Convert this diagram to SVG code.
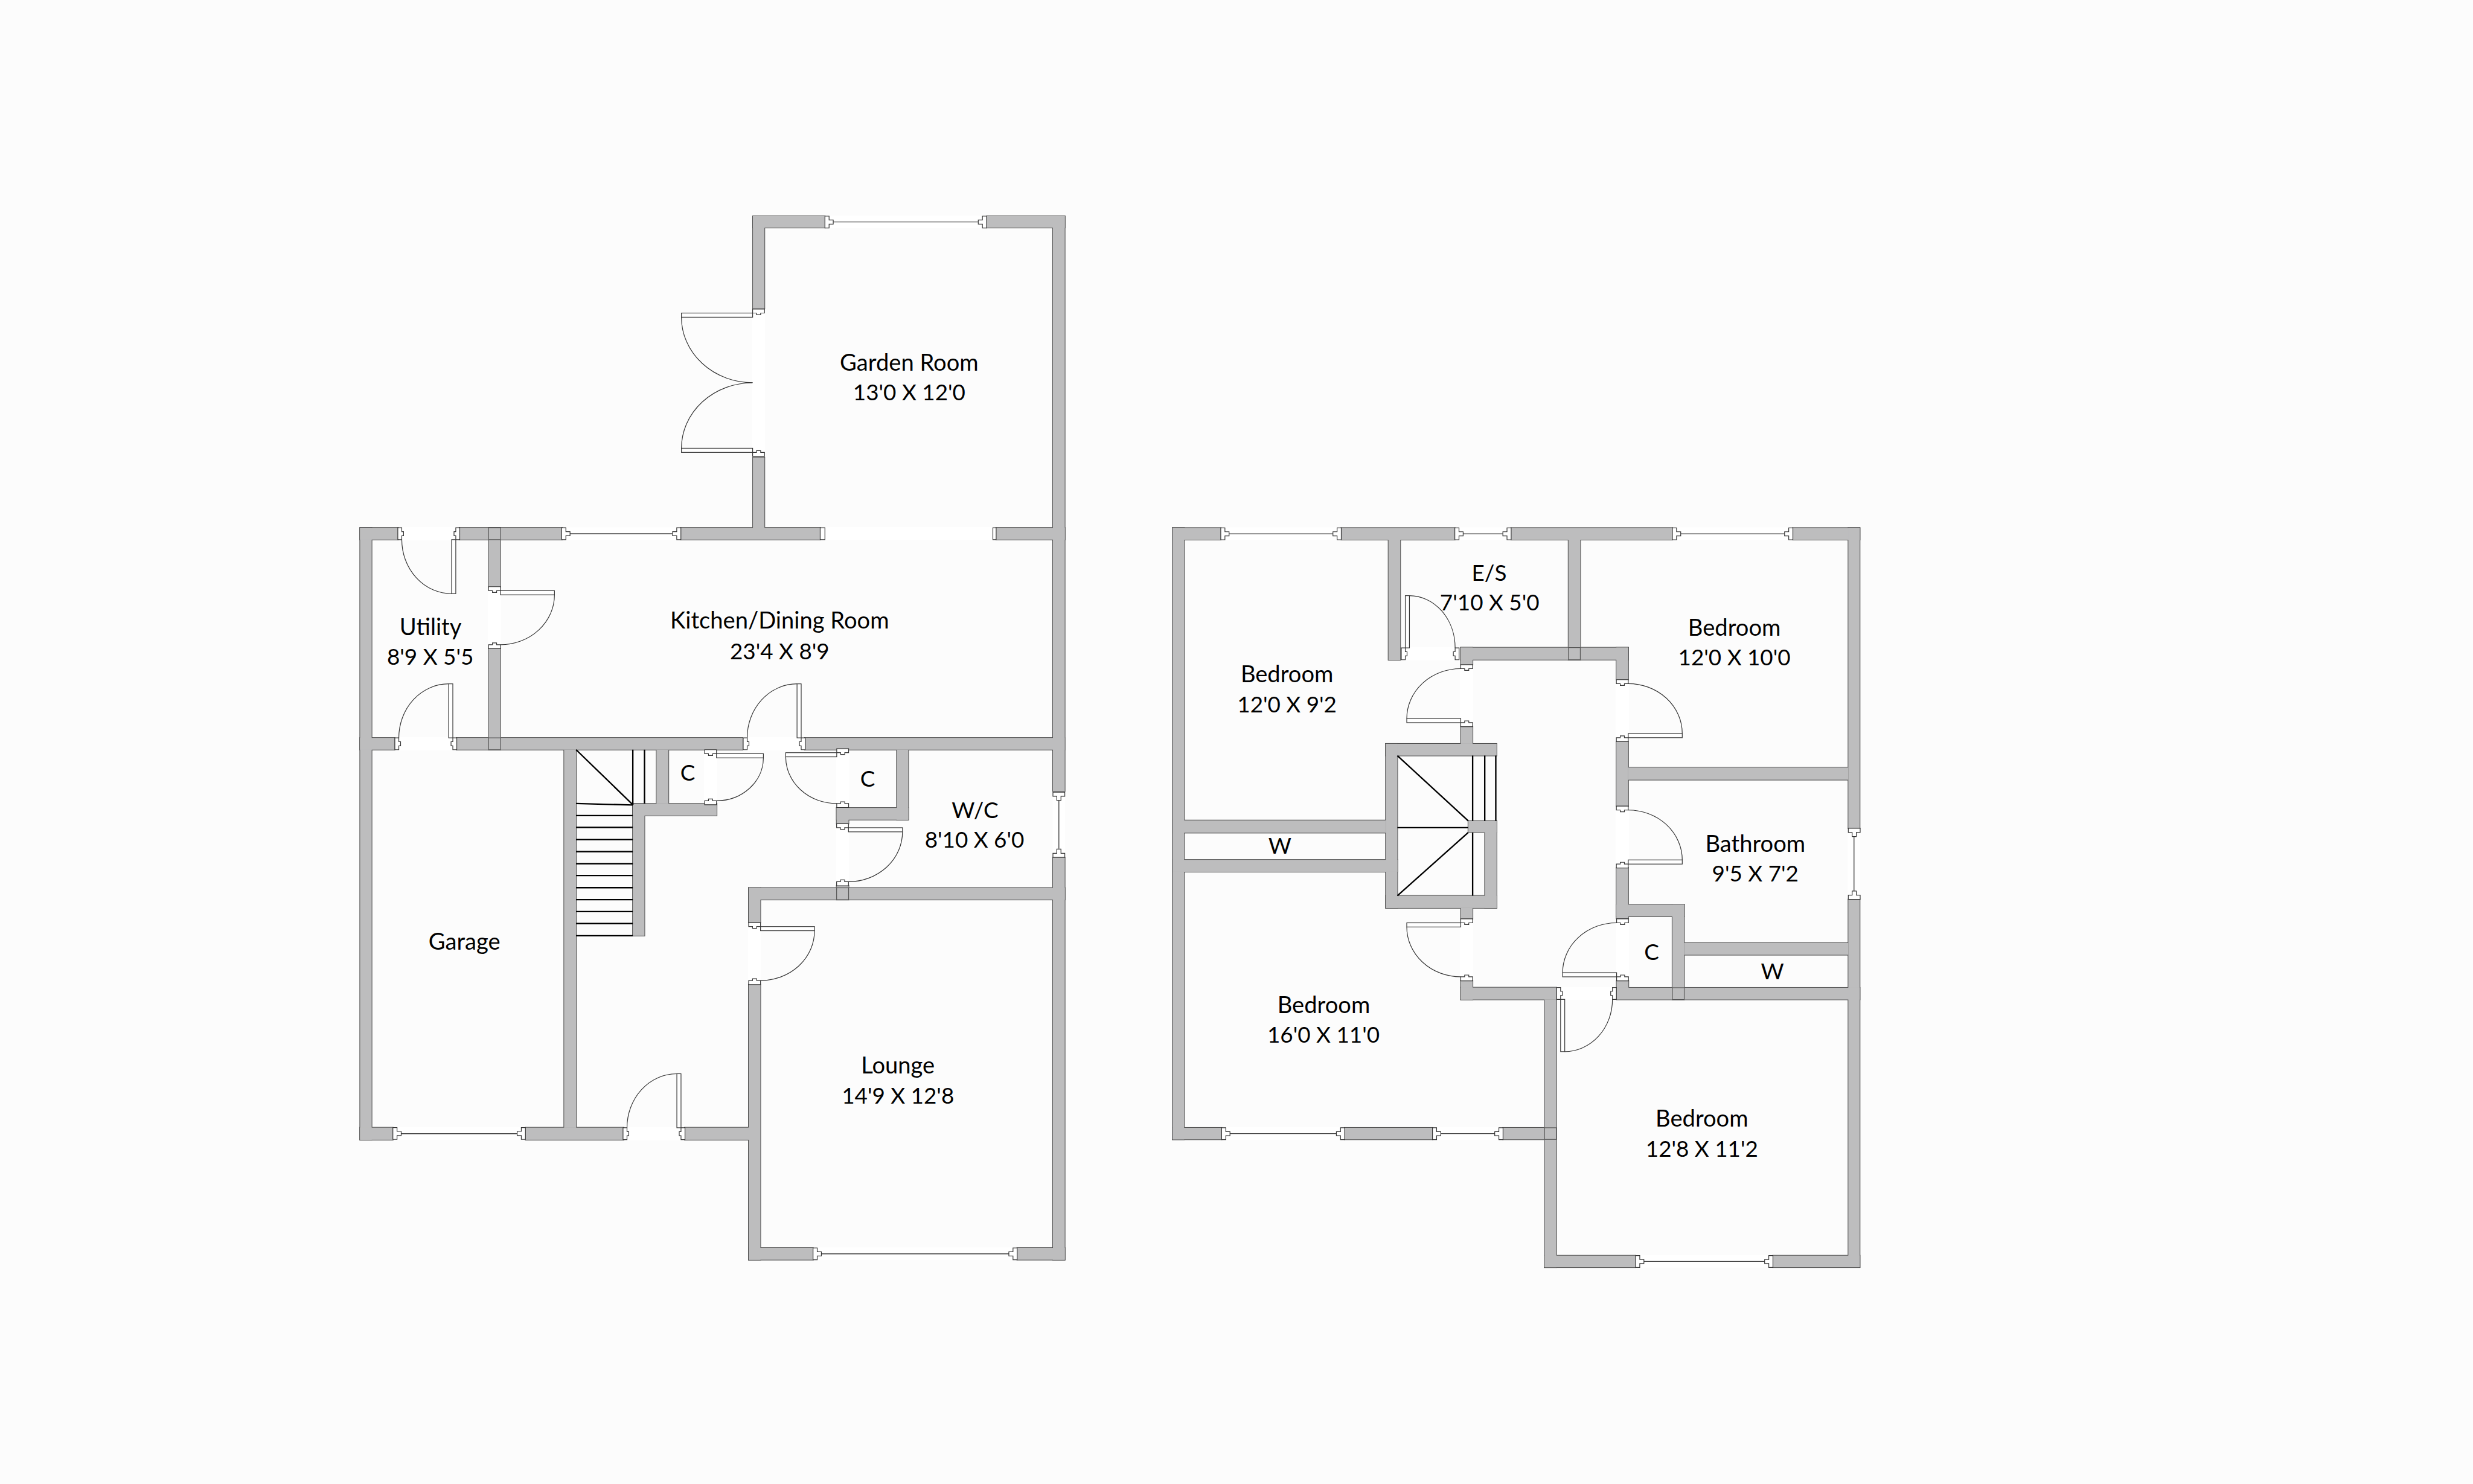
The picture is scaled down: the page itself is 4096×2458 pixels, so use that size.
<svg xmlns="http://www.w3.org/2000/svg" width="4096" height="2458" viewBox="0 0 4096 2458">
<style>
.bg{fill:#fcfcfc}
.wall{fill:#bdbdbe}
.gap{fill:#fff;stroke:none}
.p{fill:#fff;stroke:#333;stroke-width:1.2}
.arc{fill:none;stroke:#333;stroke-width:1.2}
.gl{stroke:#444;stroke-width:1.4}
.seam{fill:none;stroke:#555;stroke-width:1.2}
.st{stroke:#000;stroke-width:2.4;fill:none}
.t{font-family:Lato,"Open Sans",sans-serif;font-size:37.5px;fill:#000;text-anchor:middle}
.n{font-size:38.8px}
</style>
<defs>
<g id="j"><path class="p" d="M0 0h7v6.5h7v7h-7v6.5h-7z"/></g>
<g id="dn"><path class="p" d="M0 0h-6.7v20h6.7v-6.5h3v-7h-3z"/></g>
<g id="d91"><rect class="gap" x="0" y="-1" width="91" height="22"/><use href="#dn"/><use href="#dn" transform="matrix(-1 0 0 1 91 0)"/><rect class="p" x="0" y="20" width="7" height="91"/><path class="arc" d="M7 111A84 91 0 0 0 91 20"/></g>
<g id="d87"><rect class="gap" x="0" y="-1" width="87.4" height="22"/><use href="#dn"/><use href="#dn" transform="matrix(-1 0 0 1 87.4 0)"/><rect class="p" x="0" y="20" width="7" height="88"/><path class="arc" d="M7 108A80.4 88 0 0 0 87.4 20"/></g>
<g id="d86"><rect class="gap" x="0" y="-1" width="85.7" height="22"/><use href="#dn"/><use href="#dn" transform="matrix(-1 0 0 1 85.7 0)"/><rect class="p" x="0" y="20" width="7" height="86"/><path class="arc" d="M7 106A78.7 86 0 0 0 85.7 20"/></g>
<g id="d84"><rect class="gap" x="0" y="-1" width="84" height="22"/><use href="#dn"/><use href="#dn" transform="matrix(-1 0 0 1 84 0)"/><rect class="p" x="0" y="20" width="7" height="88"/><path class="arc" d="M7 108A77 88 0 0 0 84 20"/></g>
<g id="d79"><rect class="gap" x="0" y="-1" width="79.3" height="22"/><use href="#dn"/><use href="#dn" transform="matrix(-1 0 0 1 79.3 0)"/><rect class="p" x="0" y="20" width="7" height="79"/><path class="arc" d="M7 99A72.3 79 0 0 0 79.3 20"/></g>
<g id="d117"><rect class="gap" x="0" y="-1" width="117.3" height="22"/><use href="#dn"/><rect class="p" x="0" y="20" width="7" height="120"/><path class="arc" d="M7 140A110.3 120 0 0 0 117.3 20"/></g>
<g id="w">
<rect x="606.7" y="889.3" width="19.6" height="1031.3"/>
<rect x="606.7" y="889.3" width="64" height="20"/>
<rect x="774" y="889.3" width="173" height="20"/>
<rect x="1147.3" y="889.3" width="234.7" height="20"/>
<rect x="1678.5" y="889.3" width="115.7" height="20"/>
<rect x="823.3" y="889.3" width="20" height="99.4"/>
<rect x="823.3" y="1093.3" width="20" height="170"/>
<rect x="606.7" y="1243.3" width="58.3" height="20"/>
<rect x="769.3" y="1243.3" width="482" height="20"/>
<rect x="1355.8" y="1243.3" width="438" height="20"/>
<rect x="1268.7" y="364.2" width="19.5" height="155.8"/>
<rect x="1268.7" y="770.8" width="19.5" height="120"/>
<rect x="1268.7" y="364.2" width="121.3" height="19.5"/>
<rect x="1662.4" y="364.2" width="131.8" height="19.5"/>
<rect x="1774.2" y="364.2" width="20" height="969"/>
<rect x="1774.2" y="1444.8" width="20" height="678"/>
<rect x="950.5" y="1263.3" width="20.2" height="637"/>
<rect x="1066.3" y="1354.3" width="19.7" height="222.4"/>
<rect x="1106.2" y="1263.3" width="20.2" height="91"/>
<rect x="1066.3" y="1354.3" width="141.4" height="20"/>
<rect x="1409.7" y="1361.3" width="20.2" height="26.7"/>
<rect x="1409.7" y="1361.3" width="120.8" height="20"/>
<rect x="1511" y="1263.3" width="19.5" height="118"/>
<rect x="1261.5" y="1496" width="532.7" height="20"/>
<rect x="1261.5" y="1496" width="19.8" height="58.3"/>
<rect x="1409.7" y="1492.3" width="20.2" height="23.7"/>
<rect x="1261.5" y="1659" width="19.8" height="463.8"/>
<rect x="1261.5" y="2102.8" width="108.5" height="20"/>
<rect x="1713.9" y="2102.8" width="80.3" height="20"/>
<rect x="606.7" y="1900" width="55.3" height="20.6"/>
<rect x="885.4" y="1900" width="165.6" height="20.6"/>
<rect x="1153.8" y="1900" width="107.7" height="20.6"/>
<rect x="1975.7" y="889.5" width="19.5" height="1030.5"/>
<rect x="1975.7" y="889.5" width="81.3" height="20"/>
<rect x="2260" y="889.5" width="191.4" height="20"/>
<rect x="2546.3" y="889.5" width="271.7" height="20"/>
<rect x="3021" y="889.5" width="112.7" height="20"/>
<rect x="3114.4" y="889.5" width="19.3" height="506.2"/>
<rect x="3114.4" y="1515.4" width="19.3" height="620"/>
<rect x="2339.5" y="909" width="20" height="203"/>
<rect x="2461.4" y="1091.2" width="282.2" height="20.5"/>
<rect x="2642.8" y="909" width="20" height="203"/>
<rect x="2723.6" y="1091.2" width="20" height="54"/>
<rect x="2461.4" y="1091.2" width="20" height="29"/>
<rect x="2461.4" y="1224.3" width="20" height="29"/>
<rect x="2335" y="1253.3" width="186.8" height="20"/>
<rect x="2335" y="1253.3" width="19.6" height="276.7"/>
<rect x="2335" y="1509.3" width="186.8" height="20.7"/>
<rect x="2502" y="1383.3" width="19.8" height="146.7"/>
<rect x="2474" y="1383.3" width="47.8" height="19.4"/>
<rect x="1975.7" y="1382.3" width="359.3" height="21"/>
<rect x="1975.7" y="1448.8" width="379" height="20.2"/>
<rect x="2461.4" y="1530" width="20" height="18.3"/>
<rect x="2461.4" y="1652.4" width="20" height="32"/>
<rect x="2461.4" y="1664" width="161.2" height="20.3"/>
<rect x="2723.6" y="1250" width="20" height="108.3"/>
<rect x="2743.6" y="1293.3" width="370.8" height="20.7"/>
<rect x="2723.6" y="1462.3" width="20" height="85.4"/>
<rect x="2723.6" y="1524.3" width="114.3" height="20"/>
<rect x="2817.9" y="1524.3" width="20" height="160"/>
<rect x="2724" y="1652.7" width="20" height="31"/>
<rect x="2724" y="1664.3" width="409.7" height="20"/>
<rect x="2837.9" y="1589" width="276.5" height="20"/>
<rect x="2602.5" y="1684" width="20" height="451.5"/>
<rect x="2602.5" y="2115.7" width="153.5" height="19.8"/>
<rect x="2987.4" y="2115.7" width="146.3" height="19.8"/>
<rect x="1975.7" y="1900.3" width="82.8" height="19.7"/>
<rect x="2265.8" y="1900.3" width="147.9" height="19.7"/>
<rect x="2532.6" y="1900.3" width="70" height="19.7"/>
</g>
</defs>
<rect class="bg" width="4096" height="2458"/>
<g id="plan" transform="scale(0.98296)">
<g id="walls" class="wall">
<g stroke="#4a4a4a" stroke-width="2"><use href="#w"/></g>
<g stroke="none"><use href="#w"/></g>
</g>
<g id="seams">
<rect class="seam" x="823.3" y="889.3" width="20" height="20"/>
<rect class="seam" x="823.3" y="1243.3" width="20" height="20"/>
<rect class="seam" x="1409.7" y="1496" width="20.2" height="20"/>
<rect class="seam" x="2642.8" y="1091.2" width="20" height="20.5"/>
<rect class="seam" x="2817.9" y="1664.3" width="20" height="20"/>
<rect class="seam" x="2602.5" y="1900.3" width="20" height="19.7"/>
</g>
<g id="openings">
<rect class="gap" x="1390" y="888" width="283" height="22"/>
<rect class="p" x="1382" y="889.3" width="8" height="20"/>
<rect class="p" x="1673" y="889.3" width="5.5" height="20"/>
</g>
<g id="windows">
<rect class="gap" x="1396.5" y="363.5" width="258.7" height="21"/><line class="gl" x1="1403" y1="374" x2="1648" y2="374"/><use href="#j" transform="translate(1390 364.2)"/><use href="#j" transform="matrix(-1 0 0 1 1662.4 364.2)"/>
<rect class="gap" x="953" y="888.5" width="187" height="21"/><line class="gl" x1="960" y1="899.3" x2="1133" y2="899.3"/><use href="#j" transform="translate(946.5 889.3)"/><use href="#j" transform="matrix(-1 0 0 1 1147.3 889.3)"/>
<rect class="gap" x="1773.5" y="1341.8" width="21" height="95.2"/><line class="gl" x1="1784.2" y1="1348" x2="1784.2" y2="1430"/><use href="#j" transform="matrix(0 1 1 0 1774.2 1334.8)"/><use href="#j" transform="matrix(0 -1 1 0 1774.2 1444.8)"/>
<rect class="gap" x="1377" y="2102" width="329.6" height="21"/><line class="gl" x1="1384" y1="2112.8" x2="1700" y2="2112.8"/><use href="#j" transform="translate(1370 2102.8)"/><use href="#j" transform="matrix(-1 0 0 1 1713.9 2102.8)"/>
<rect class="gap" x="668.4" y="1899" width="208.9" height="22"/><line class="gl" x1="675" y1="1910.3" x2="871" y2="1910.3"/><use href="#j" transform="translate(662 1900)"/><use href="#j" transform="matrix(-1 0 0 1 885.4 1900)"/>
<rect class="gap" x="2064" y="888.5" width="189" height="21"/><line class="gl" x1="2071" y1="899.5" x2="2246" y2="899.5"/><use href="#j" transform="translate(2057 889.5)"/><use href="#j" transform="matrix(-1 0 0 1 2260 889.5)"/>
<rect class="gap" x="2458" y="888.5" width="81" height="21"/><line class="gl" x1="2465" y1="899.5" x2="2532" y2="899.5"/><use href="#j" transform="translate(2451.4 889.5)"/><use href="#j" transform="matrix(-1 0 0 1 2546.3 889.5)"/>
<rect class="gap" x="2825" y="888.5" width="188" height="21"/><line class="gl" x1="2832" y1="899.5" x2="3007" y2="899.5"/><use href="#j" transform="translate(2818 889.5)"/><use href="#j" transform="matrix(-1 0 0 1 3021 889.5)"/>
<rect class="gap" x="3113.5" y="1402" width="21" height="106.6"/><line class="gl" x1="3124" y1="1409" x2="3124" y2="1502"/><use href="#j" transform="matrix(0 1 1 0 3114.4 1395.7)"/><use href="#j" transform="matrix(0 -1 1 0 3114.4 1515.4)"/>
<rect class="gap" x="2065" y="1899.5" width="194.4" height="21"/><line class="gl" x1="2072" y1="1910.2" x2="2252" y2="1910.2"/><use href="#j" transform="translate(2058.5 1900.3)"/><use href="#j" transform="matrix(-1 0 0 1 2265.8 1900.3)"/>
<rect class="gap" x="2420" y="1899.5" width="106" height="21"/><line class="gl" x1="2427" y1="1910.2" x2="2519" y2="1910.2"/><use href="#j" transform="translate(2413.7 1900.3)"/><use href="#j" transform="matrix(-1 0 0 1 2532.6 1900.3)"/>
<rect class="gap" x="2762.4" y="2115" width="217.8" height="21"/><line class="gl" x1="2769" y1="2125.6" x2="2974" y2="2125.6"/><use href="#j" transform="translate(2756 2115.7)"/><use href="#j" transform="matrix(-1 0 0 1 2987.4 2115.7)"/>
</g>
<g id="doors">
<use href="#d91" transform="matrix(-1 0 0 1 768 889.3)"/>
<use href="#d91" transform="matrix(-1 0 0 -1 763 1263.3)"/>
<use href="#d91" transform="matrix(0 1 1 0 823.3 995.3)"/>
<use href="#d91" transform="matrix(-1 0 0 -1 1350 1263.3)"/>
<use href="#d79" transform="matrix(0 1 1 0 1187.3 1270)"/>
<use href="#d86" transform="matrix(0 1 -1 0 1429.9 1268.3)"/>
<use href="#d91" transform="matrix(0 1 1 0 1409.7 1394.7)"/>
<use href="#d91" transform="matrix(0 1 1 0 1261.5 1561.3)"/>
<use href="#d91" transform="matrix(-1 0 0 -1 1147.5 1920.3)"/>
<use href="#d117" transform="matrix(0 1 -1 0 1288.2 527.5)"/>
<use href="#d117" transform="matrix(0 -1 -1 0 1288.2 762.3)"/>
<use href="#d84" transform="matrix(1 0 0 -1 2367.9 1111.7)"/>
<use href="#d91" transform="matrix(0 -1 -1 0 2481.4 1217.7)"/>
<use href="#d91" transform="matrix(0 1 -1 0 2481.4 1555)"/>
<use href="#d87" transform="matrix(1 0 0 1 2629.6 1664)"/>
<use href="#d91" transform="matrix(0 -1 1 0 2723.6 1243)"/>
<use href="#d91" transform="matrix(0 -1 1 0 2723.6 1456)"/>
<use href="#d91" transform="matrix(0 -1 -1 0 2744 1646)"/>
</g>
<g id="stairs" class="st">
<path d="M970.7 1263.3L1066.3 1356M970.7 1354L1066.3 1356.5M1066.3 1263.3V1356M1086 1263.3V1354.3"/>
<path d="M970.7 1374.3H1066.3M970.7 1394.3H1066.3M970.7 1414.7H1066.3M970.7 1435H1066.3M970.7 1455.3H1066.3M970.7 1475.3H1066.3M970.7 1495.7H1066.3M970.7 1516H1066.3M970.7 1536H1066.3M970.7 1556.3H1066.3M970.7 1576.7H1066.3"/>
<path d="M2354.6 1273.3L2474 1383.3M2354.6 1394.7H2474M2354.6 1509.3L2474 1402.7M2481.4 1273.3V1383.3M2501.8 1273.3V1383.3M2520.4 1273.3V1383.3M2481.4 1402.7V1509.3"/>
</g>
<g id="labels">
<text class="t n" x="1532" y="625">Garden Room</text>
<text class="t" x="1532" y="674.5">13'0 X 12'0</text>
<text class="t n" x="1313.7" y="1059">Kitchen/Dining Room</text>
<text class="t" x="1313.7" y="1110.7">23'4 X 8'9</text>
<text class="t n" x="725.5" y="1070">Utility</text>
<text class="t" x="725" y="1120">8'9 X 5'5</text>
<text class="t n" x="782.5" y="1600.5">Garage</text>
<text class="t n" x="1513" y="1809">Lounge</text>
<text class="t" x="1513" y="1859.4">14'9 X 12'8</text>
<text class="t" x="1643" y="1378.8">W/C</text>
<text class="t" x="1642" y="1428.5">8'10 X 6'0</text>
<text class="t" x="1158.9" y="1315">C</text>
<text class="t" x="1461.9" y="1326">C</text>
<text class="t" x="2509.3" y="978.3">E/S</text>
<text class="t" x="2510" y="1028.8">7'10 X 5'0</text>
<text class="t n" x="2922.4" y="1071">Bedroom</text>
<text class="t" x="2922.4" y="1121">12'0 X 10'0</text>
<text class="t n" x="2168.6" y="1149.3">Bedroom</text>
<text class="t" x="2168.6" y="1200.6">12'0 X 9'2</text>
<text class="t" x="2156.5" y="1438.6">W</text>
<text class="t n" x="2957.7" y="1435">Bathroom</text>
<text class="t" x="2957.7" y="1485.4">9'5 X 7'2</text>
<text class="t n" x="2230.5" y="1706.7">Bedroom</text>
<text class="t" x="2230" y="1756.7">16'0 X 11'0</text>
<text class="t n" x="2867.7" y="1898.6">Bedroom</text>
<text class="t" x="2867.7" y="1949.5">12'8 X 11'2</text>
<text class="t" x="2783" y="1617.3">C</text>
<text class="t" x="2986.4" y="1650">W</text>
</g>
</g>
</svg>
